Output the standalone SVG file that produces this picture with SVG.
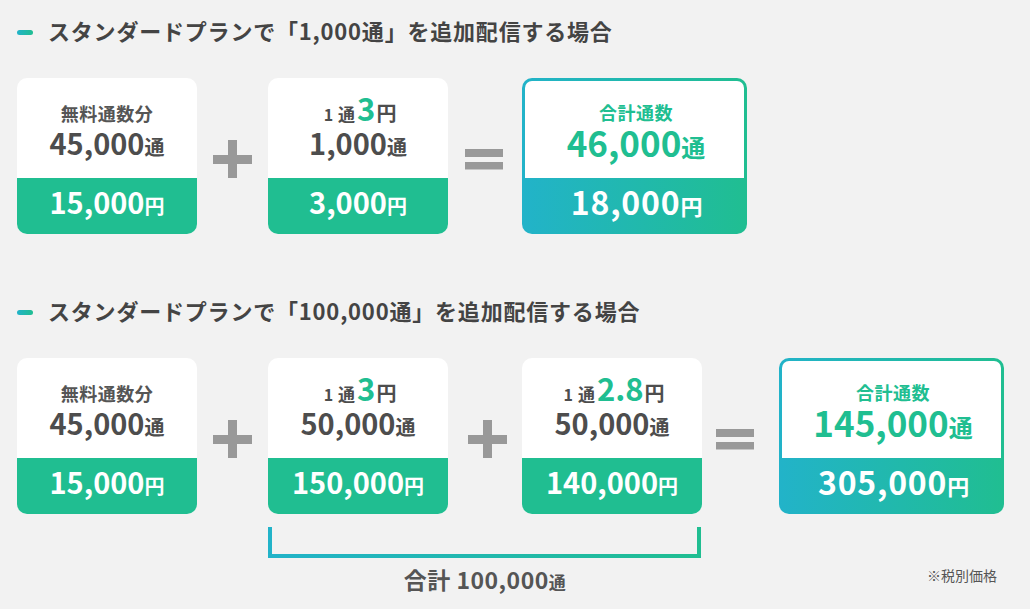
<svg xmlns="http://www.w3.org/2000/svg" width="1030" height="609" viewBox="0 0 1030 609">
<defs>
<linearGradient id="tg" x1="0" y1="0" x2="1" y2="0">
<stop offset="0" stop-color="#22b3c9"/>
<stop offset="1" stop-color="#20be91"/>
</linearGradient>
<linearGradient id="tgu" gradientUnits="userSpaceOnUse" x1="268" y1="0" x2="701" y2="0">
<stop offset="0" stop-color="#22b3c9"/>
<stop offset="1" stop-color="#20be91"/>
</linearGradient>
<style>
text{font-family:"Noto Sans CJK JP","Noto Sans",sans-serif;font-weight:700}
.h{font-size:22px;fill:#444;letter-spacing:0.8px}
.lbl{font-size:18px;fill:#555;text-anchor:middle;letter-spacing:0.5px}
.num{font-size:29px;fill:#4d4d4d;text-anchor:middle}
.u{font-size:20px}
.w{fill:#fff}
.g{fill:#20be91}
.tnum{font-size:35px;fill:#20be91;text-anchor:middle}
.wn{font-size:32px;fill:#fff;text-anchor:middle;letter-spacing:0.8px}
.op{fill:#999}
.green{fill:#20be91}
.white{fill:#fff}
</style>
</defs>
<rect x="0" y="0" width="1030" height="609" fill="#f2f2f2"/>

<!-- Heading 1 -->
<g id="heading1">
<rect x="17" y="30" width="16" height="5" rx="2.5" fill="url(#tg)"/>
<text class="h" x="48" y="40">スタンダードプランで「1,000通」を追加配信する場合</text>
</g>

<!-- Row 1 -->
<g id="r1-free">
<rect class="white" x="17" y="78" width="180" height="156" rx="10"/>
<path class="green" d="M17,178H197V224a10,10 0 0 1 -10,10H27a10,10 0 0 1 -10,-10Z"/>
<text class="lbl" x="107" y="121">無料通数分</text>
<text class="num" x="107" y="155">45,000<tspan class="u">通</tspan></text>
<text class="num w" x="107" y="214">15,000<tspan class="u">円</tspan></text>
</g>
<g id="r1-plus" class="op">
<rect x="213" y="155" width="39" height="9"/>
<rect x="228" y="140" width="9" height="38"/>
</g>
<g id="r1-add">
<rect class="white" x="268" y="78" width="180" height="156" rx="10"/>
<path class="green" d="M268,178H448V224a10,10 0 0 1 -10,10H278a10,10 0 0 1 -10,-10Z"/>
<text class="num" x="360" y="121"><tspan font-size="16px">1</tspan><tspan font-size="17px" dx="5">通</tspan><tspan class="g" font-size="31px" dx="2">3</tspan><tspan font-size="20px" dx="1">円</tspan></text>
<text class="num" x="358" y="155">1,000<tspan class="u">通</tspan></text>
<text class="num w" x="358" y="214">3,000<tspan class="u">円</tspan></text>
</g>
<g id="r1-eq" class="op">
<rect x="465" y="149" width="38" height="8"/>
<rect x="465" y="162" width="38" height="7.5"/>
</g>
<g id="r1-total">
<rect x="522" y="78" width="225" height="156" rx="10" fill="url(#tg)"/>
<path class="white" d="M525,178V88a7,7 0 0 1 7,-7H737a7,7 0 0 1 7,7V178Z"/>
<text class="lbl" x="636" y="120" style="fill:#20be91">合計通数</text>
<text class="tnum" x="636" y="157">46,000<tspan font-size="24px">通</tspan></text>
<text class="wn" x="637" y="215">18,000<tspan font-size="22px">円</tspan></text>
</g>

<!-- Heading 2 -->
<g id="heading2">
<rect x="17" y="310" width="16" height="5" rx="2.5" fill="url(#tg)"/>
<text class="h" x="48" y="320">スタンダードプランで「100,000通」を追加配信する場合</text>
</g>

<!-- Row 2 -->
<g id="r2-free">
<rect class="white" x="17" y="358" width="180" height="156" rx="10"/>
<path class="green" d="M17,458H197V504a10,10 0 0 1 -10,10H27a10,10 0 0 1 -10,-10Z"/>
<text class="lbl" x="107" y="401">無料通数分</text>
<text class="num" x="107" y="435">45,000<tspan class="u">通</tspan></text>
<text class="num w" x="107" y="494">15,000<tspan class="u">円</tspan></text>
</g>
<g id="r2-plus1" class="op">
<rect x="213" y="435" width="39" height="9"/>
<rect x="228" y="420" width="9" height="38"/>
</g>
<g id="r2-add1">
<rect class="white" x="268" y="358" width="180" height="156" rx="10"/>
<path class="green" d="M268,458H448V504a10,10 0 0 1 -10,10H278a10,10 0 0 1 -10,-10Z"/>
<text class="num" x="360" y="401"><tspan font-size="16px">1</tspan><tspan font-size="17px" dx="5">通</tspan><tspan class="g" font-size="31px" dx="2">3</tspan><tspan font-size="20px" dx="1">円</tspan></text>
<text class="num" x="358" y="435">50,000<tspan class="u">通</tspan></text>
<text class="num w" x="358" y="494">150,000<tspan class="u">円</tspan></text>
</g>
<g id="r2-plus2" class="op">
<rect x="468" y="435" width="39" height="9"/>
<rect x="483" y="420" width="9" height="38"/>
</g>
<g id="r2-add2">
<rect class="white" x="522" y="358" width="180" height="156" rx="10"/>
<path class="green" d="M522,458H702V504a10,10 0 0 1 -10,10H532a10,10 0 0 1 -10,-10Z"/>
<text class="num" x="614" y="401"><tspan font-size="16px">1</tspan><tspan font-size="17px" dx="5">通</tspan><tspan class="g" font-size="31px" dx="2">2.8</tspan><tspan font-size="20px" dx="1">円</tspan></text>
<text class="num" x="612" y="435">50,000<tspan class="u">通</tspan></text>
<text class="num w" x="612" y="494">140,000<tspan class="u">円</tspan></text>
</g>
<g id="r2-eq" class="op">
<rect x="716" y="429" width="38" height="8"/>
<rect x="716" y="442" width="38" height="7.5"/>
</g>
<g id="r2-total">
<rect x="779" y="358" width="225" height="156" rx="10" fill="url(#tg)"/>
<path class="white" d="M782,458V368a7,7 0 0 1 7,-7H994a7,7 0 0 1 7,7V458Z"/>
<text class="lbl" x="893" y="400" style="fill:#20be91">合計通数</text>
<text class="tnum" x="893" y="437">145,000<tspan font-size="24px">通</tspan></text>
<text class="wn" x="894" y="495">305,000<tspan font-size="22px">円</tspan></text>
</g>

<!-- Connectors -->
<g id="connectors">
<path d="M270,527V556H699V527" fill="none" stroke="url(#tgu)" stroke-width="4"/>
</g>
<g id="sum-label">
<text x="485" y="589" text-anchor="middle" fill="#555" font-size="23px" letter-spacing="0.5">合計 100,000<tspan font-size="17px">通</tspan></text>
</g>
<g id="note">
<text x="997" y="581" text-anchor="end" fill="#555" font-size="14px" style="font-weight:400">※税別価格</text>
</g>
</svg>
